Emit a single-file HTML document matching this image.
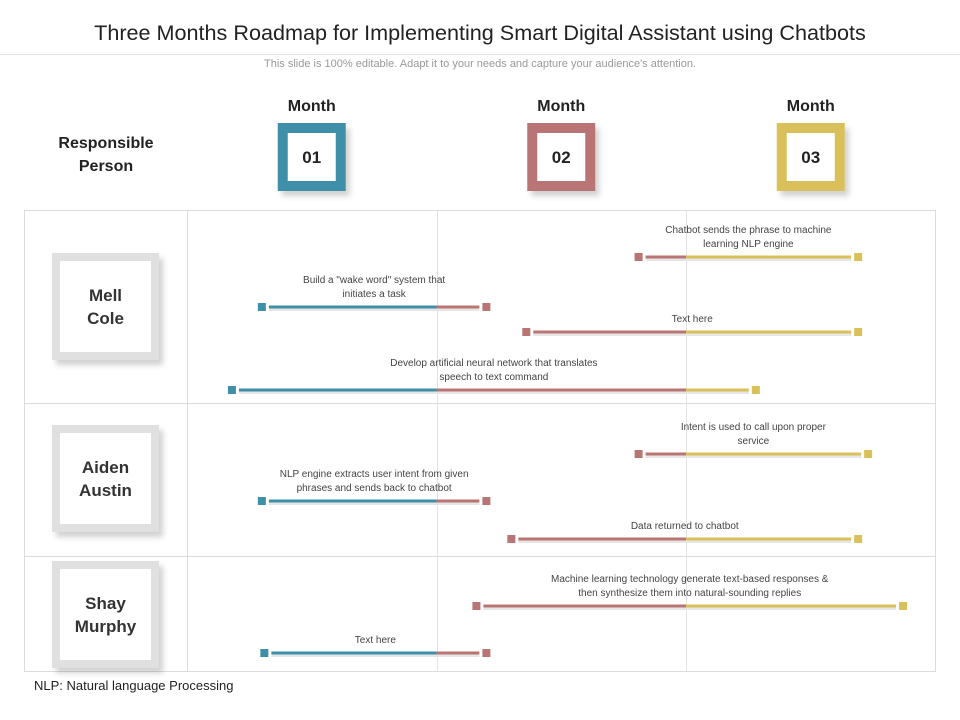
<!DOCTYPE html>
<html><head><meta charset="utf-8"><style>
body{margin:0;background:#fff;font-family:"Liberation Sans",sans-serif;}
#wrap{position:relative;width:960px;height:720px;overflow:hidden;}
.t{position:absolute;white-space:nowrap;}
</style></head><body>
<div id="wrap">
<div class="t" style="left:0;width:960px;text-align:center;top:20px;font-size:21.6px;color:#222">Three Months Roadmap for Implementing Smart Digital Assistant using Chatbots</div>
<div style="position:absolute;left:0;top:54px;width:960px;height:1px;background:#e4e4e4"></div>
<div class="t" style="left:0;width:960px;text-align:center;top:58px;font-size:11px;color:#999">This slide is 100% editable. Adapt it to your needs and capture your audience's attention.</div>
<div class="t" style="left:34px;top:678px;font-size:13px;color:#222">NLP: Natural language Processing</div>
<svg id="chart" width="960" height="720" style="position:absolute;left:0;top:0"></svg>
</div>
<script>
const monthLabels=["01","02","03"];
const monthColors=["#3f8fa8","#b97574","#d9c05a"];
const persons=[["Mell","Cole"],["Aiden","Austin"],["Shay","Murphy"]];
const taskLabels=[
 ["Chatbot sends the phrase to machine","learning NLP engine"],
 ["Build a \"wake word\" system that","initiates  a task"],
 ["Text here"],
 ["Develop artificial  neural network that translates","speech to text command"],
 ["Intent is used to call upon proper","service"],
 ["NLP engine extracts user intent from given","phrases and sends back to chatbot"],
 ["Data returned to chatbot"],
 ["Machine learning technology generate text-based responses &","then synthesize them into natural-sounding replies"],
 ["Text here"]];
const taskStart=[1.81,0.30,1.36,0.18,1.81,0.30,1.30,1.16,0.31];
const taskEnd=[2.69,1.20,2.69,2.28,2.73,1.20,2.69,2.87,1.20];
const taskRowY=[257,307,332,390,454,501,539,606,653];

const svg=document.getElementById('chart');
const NS="http://www.w3.org/2000/svg";
function mk(tag,attrs,parent){const e=document.createElementNS(NS,tag);for(const k in attrs)e.setAttribute(k,attrs[k]);(parent||svg).appendChild(e);return e;}
const x0=187,mw=249.5;
function xs(v){return x0+mw*v;}
function txt(x,y,s,size,fill,weight,anchor){const t=mk('text',{x:x,y:y,'font-size':size,fill:fill,'font-weight':weight||'normal','text-anchor':anchor||'middle','font-family':'Liberation Sans, sans-serif'});t.textContent=s;return t;}

const g=mk('g',{});


mk('rect',{x:24.5,y:210.5,width:911,height:461,fill:'none',stroke:'#dcdcdc'},g);
mk('line',{x1:187.5,y1:210,x2:187.5,y2:671,stroke:'#dcdcdc'},g);
[403.5,556.5].forEach(y=>mk('line',{x1:24,y1:y,x2:936,y2:y,stroke:'#dcdcdc'},g));
[1,2].forEach(m=>mk('line',{x1:Math.round(xs(m))+0.5,y1:210,x2:Math.round(xs(m))+0.5,y2:671,stroke:'#e2e2e2'},g));

const hg=mk('g',{});


hg.appendChild(txt(106,148,'Responsible',16,'#222','bold'));
hg.appendChild(txt(106,171,'Person',16,'#222','bold'));
const defs=mk('defs',{});
const f=mk('filter',{id:'sh',x:'-20%',y:'-20%',width:'150%',height:'150%'},defs);
mk('feDropShadow',{dx:4,dy:5,stdDeviation:3,'flood-color':'#000','flood-opacity':0.18},f);
monthLabels.forEach((m,i)=>{
 const cx=xs(i+0.5);
 const mg=mk('g',{});
 
 
 mg.appendChild(txt(cx,111,'Month',16,'#222','bold'));
 mk('rect',{x:cx-34,y:123,width:68,height:68,fill:monthColors[i],filter:'url(#sh)'},mg);
 mk('rect',{x:cx-24,y:133,width:48,height:48,fill:'#fff'},mg);
 mg.appendChild(txt(cx,163,m,17,'#222','bold'));
});
const pY=[253,425,561];
persons.forEach((p,i)=>{
 const pg=mk('g',{});
 
 
 mk('rect',{x:52,y:pY[i],width:107,height:107,fill:'#e0e0e0',filter:'url(#sh)'},pg);
 mk('rect',{x:60,y:pY[i]+8,width:91,height:91,fill:'#fff'},pg);
 pg.appendChild(txt(105.5,pY[i]+48,p[0],17,'#333','bold'));
 pg.appendChild(txt(105.5,pY[i]+71,p[1],17,'#333','bold'));
});
taskStart.forEach((s,i)=>{
 const e=taskEnd[i],y=taskRowY[i];
 const tg=mk('g',{});
 
 
 const a=xs(s),b=xs(e);
 const lx=a+7,rx=b-7;
 mk('rect',{x:lx,y:y+1,width:rx-lx,height:3,fill:'#e6e6e6'},tg);
 for(let m=0;m<3;m++){
  const sa=Math.max(lx,xs(m)),sb=Math.min(rx,xs(m+1));
  if(sb>sa)mk('rect',{x:sa,y:y-1.5,width:sb-sa,height:3,fill:monthColors[m]},tg);
 }
 const ci=Math.min(2,Math.floor(s)),ce=Math.min(2,Math.floor(e));
 mk('rect',{x:a-4,y:y-4,width:8,height:8,fill:monthColors[ci]},tg);
 mk('rect',{x:b-4,y:y-4,width:8,height:8,fill:monthColors[ce]},tg);
 const L=taskLabels[i],cx=(a+b)/2;
 const n=L.length;
 L.forEach((ln,k)=>{const t=txt(cx,y-10-(n-1-k)*14,ln,10,'#444');t.setAttribute('textLength','');t.removeAttribute('textLength');tg.appendChild(t);});
});
</script>
</body></html>
